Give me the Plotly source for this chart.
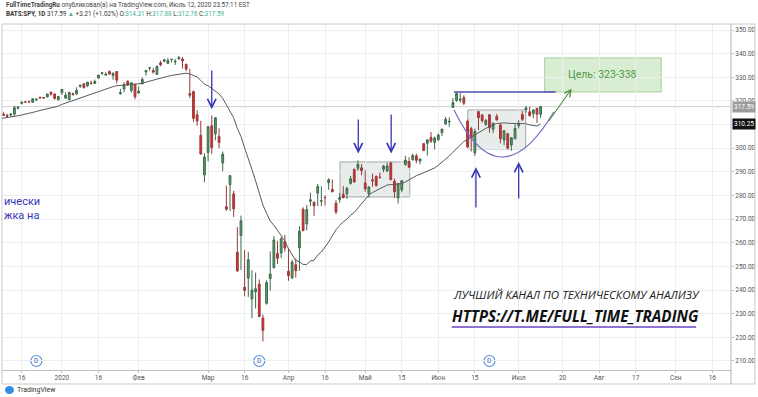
import plotly.graph_objects as go
import pandas as pd

# ---------------- DATA (BATS:SPY, 1D) ----------------
dates = ["2019-12-06","2019-12-09","2019-12-10","2019-12-11","2019-12-12","2019-12-13","2019-12-16","2019-12-17","2019-12-18","2019-12-19",
"2019-12-20","2019-12-23","2019-12-24","2019-12-26","2019-12-27","2019-12-30","2019-12-31","2020-01-02","2020-01-03","2020-01-06",
"2020-01-07","2020-01-08","2020-01-09","2020-01-10","2020-01-13","2020-01-14","2020-01-15","2020-01-16","2020-01-17","2020-01-21",
"2020-01-22","2020-01-23","2020-01-24","2020-01-27","2020-01-28","2020-01-29","2020-01-30","2020-01-31","2020-02-03","2020-02-04",
"2020-02-05","2020-02-06","2020-02-07","2020-02-10","2020-02-11","2020-02-12","2020-02-13","2020-02-14","2020-02-18","2020-02-19",
"2020-02-20","2020-02-21","2020-02-24","2020-02-25","2020-02-26","2020-02-27","2020-02-28","2020-03-02","2020-03-03","2020-03-04",
"2020-03-05","2020-03-06","2020-03-09","2020-03-10","2020-03-11","2020-03-12","2020-03-13","2020-03-16","2020-03-17","2020-03-18",
"2020-03-19","2020-03-20","2020-03-23","2020-03-24","2020-03-25","2020-03-26","2020-03-27","2020-03-30","2020-03-31","2020-04-01",
"2020-04-02","2020-04-03","2020-04-06","2020-04-07","2020-04-08","2020-04-09","2020-04-13","2020-04-14","2020-04-15","2020-04-16",
"2020-04-17","2020-04-20","2020-04-21","2020-04-22","2020-04-23","2020-04-24","2020-04-27","2020-04-28","2020-04-29","2020-04-30",
"2020-05-01","2020-05-04","2020-05-05","2020-05-06","2020-05-07","2020-05-08","2020-05-11","2020-05-12","2020-05-13","2020-05-14",
"2020-05-15","2020-05-18","2020-05-19","2020-05-20","2020-05-21","2020-05-22","2020-05-26","2020-05-27","2020-05-28","2020-05-29",
"2020-06-01","2020-06-02","2020-06-03","2020-06-04","2020-06-05","2020-06-08","2020-06-09","2020-06-10","2020-06-11","2020-06-12",
"2020-06-15","2020-06-16","2020-06-17","2020-06-18","2020-06-19","2020-06-22","2020-06-23","2020-06-24","2020-06-25","2020-06-26",
"2020-06-29","2020-06-30","2020-07-01","2020-07-02","2020-07-06","2020-07-07","2020-07-08","2020-07-09","2020-07-10"]

opens = [314.12,314.44,313.82,314.03,314.43,316.91,319.00,319.61,319.71,319.42,
320.45,321.59,321.47,321.65,323.74,322.95,320.53,323.54,321.16,320.49,
323.02,322.94,326.16,327.29,326.39,327.47,327.35,329.71,331.70,330.90,
332.43,330.63,332.44,323.03,325.06,328.38,324.36,327.00,323.35,327.20,
332.23,333.91,332.82,331.23,336.16,336.83,335.86,337.51,336.51,337.79,
337.74,335.47,323.14,323.94,314.18,305.46,288.70,298.21,309.50,306.12,
304.98,293.79,275.30,284.64,280.70,255.94,263.09,241.18,245.04,236.25,
239.25,242.53,228.19,234.42,244.87,249.52,255.52,255.70,260.56,247.98,
245.19,250.76,257.84,274.21,267.96,277.58,277.14,280.98,277.57,279.15,
285.38,282.61,276.73,278.35,280.49,280.73,285.12,291.02,291.53,291.71,
285.31,280.74,286.64,288.04,287.75,291.09,290.34,293.79,286.06,278.95,
282.37,293.05,294.35,295.06,296.79,294.57,301.93,302.12,304.65,302.46,
303.62,306.55,310.24,311.11,317.23,320.22,320.30,321.42,311.46,308.24,
298.02,315.48,314.07,310.01,314.17,307.99,313.49,309.84,303.47,306.16,
301.41,303.99,309.57,314.24,316.37,315.38,314.61,316.84,314.31]

highs = [315.31,315.18,314.55,314.70,317.99,317.86,319.52,319.70,320.15,320.98,
321.00,321.65,321.52,322.95,323.80,323.10,322.13,324.89,323.64,323.73,
323.54,325.78,326.73,327.46,327.96,328.62,329.02,330.92,332.00,332.18,
332.95,332.03,332.53,325.12,327.85,328.63,327.91,327.17,326.16,330.00,
333.09,334.19,333.99,334.75,337.02,337.64,338.12,337.73,337.67,339.08,
338.64,335.80,333.56,324.35,316.06,311.56,297.89,309.16,313.84,313.10,
308.47,298.60,284.19,288.52,281.94,266.66,271.48,256.90,256.17,248.37,
247.38,244.47,229.68,244.10,256.35,262.80,260.81,262.43,263.33,257.66,
252.68,253.32,267.00,275.03,276.00,281.20,277.51,284.90,283.94,280.03,
287.30,286.79,278.04,281.00,283.94,283.70,288.27,291.40,294.88,293.32,
290.66,283.90,289.25,288.46,289.78,292.95,294.00,294.24,287.19,285.11,
286.33,296.75,296.21,297.67,297.67,295.63,302.19,303.57,306.84,304.96,
306.21,308.13,313.22,313.00,321.27,323.41,323.28,322.39,312.15,309.08,
308.28,315.64,314.39,312.30,314.38,310.72,314.50,310.51,307.64,306.39,
304.61,310.20,311.89,315.70,317.88,317.52,316.30,317.10,317.88]

lows = [314.11,313.80,312.81,313.44,313.64,316.50,318.55,319.17,319.30,319.30,
319.88,321.06,320.90,321.64,322.28,320.55,320.15,322.53,321.10,320.36,
322.24,322.67,325.52,325.20,325.92,326.84,327.26,329.45,330.94,330.82,
331.17,328.95,327.36,322.66,323.60,326.40,323.54,320.73,323.22,327.14,
330.67,332.80,331.60,331.19,334.68,336.33,335.56,336.20,335.21,337.48,
333.68,332.58,321.13,311.21,309.55,297.51,285.54,294.46,297.57,303.33,
300.01,290.26,273.45,273.46,270.88,247.68,248.52,237.36,237.07,228.02,
232.22,228.50,218.26,233.80,239.75,249.05,251.05,253.53,256.22,243.90,
244.59,245.22,248.17,264.89,265.25,275.47,271.41,275.51,275.46,275.76,
282.40,281.35,272.02,276.91,278.75,278.50,284.62,285.40,290.41,288.59,
281.52,279.13,283.71,283.78,287.13,289.86,289.88,286.52,278.97,276.56,
281.34,292.70,291.95,294.97,293.69,293.22,298.69,296.87,302.24,299.47,
303.06,305.10,309.94,309.08,317.16,319.63,319.36,318.22,300.01,298.60,
296.74,307.67,310.86,309.51,306.53,306.39,311.61,302.10,301.32,299.42,
298.93,303.82,308.35,311.51,315.01,313.37,312.70,310.68,312.76]

closes = [314.87,313.88,313.53,314.42,317.13,317.32,319.50,319.57,319.59,320.90,
320.73,321.22,321.23,322.94,322.86,321.08,321.86,324.87,322.41,323.64,
322.73,324.45,326.65,325.71,327.95,327.45,328.19,330.92,331.95,331.30,
331.34,331.72,328.77,323.50,326.89,326.62,327.68,321.73,324.12,329.06,
332.86,333.98,332.20,334.68,335.26,337.42,337.06,337.60,336.73,338.34,
336.95,333.48,322.42,312.65,311.50,297.51,296.26,309.09,300.24,312.86,
302.46,297.46,274.23,288.42,274.36,248.11,269.32,239.85,252.80,240.00,
240.51,228.80,222.95,243.15,246.79,261.20,253.42,261.65,257.75,246.15,
251.83,248.19,264.86,265.13,274.03,278.20,275.66,283.79,277.76,279.10,
286.64,281.59,273.04,279.10,279.08,282.97,287.05,285.73,293.21,290.48,
282.79,283.57,286.19,284.25,287.68,292.44,292.50,286.67,281.60,284.97,
286.28,295.00,291.97,296.93,294.88,295.44,299.08,303.53,302.97,304.32,
305.55,308.08,312.18,311.36,319.34,323.20,320.79,319.00,300.61,304.21,
307.05,312.96,311.66,311.78,308.64,310.62,312.05,304.09,307.35,300.05,
304.46,308.36,310.52,312.23,317.05,313.78,316.18,314.38,317.59]

# closes of the 19 sessions before the first visible bar (warm-up for the 20-day SMA)
warmup_closes = [309.96,309.62,310.26,310.44,310.97,313.37,313.60,313.52,312.38,311.79,
312.50,315.06,315.73,316.81,314.31,311.64,309.55,311.46,312.02]

holidays = ["2019-12-25","2020-01-01","2020-01-20","2020-02-17","2020-04-10","2020-05-25","2020-07-03","2020-09-07"]

tick_dates = ["2019-12-16","2020-01-02","2020-01-16","2020-02-03","2020-03-02","2020-03-16","2020-04-01","2020-04-16","2020-05-01",
              "2020-05-15","2020-06-01","2020-06-15","2020-07-01","2020-07-20","2020-08-03","2020-08-17","2020-09-01","2020-09-16"]
tick_text = ["16","2020","16","Фев","Мар","16","Апр","16","Май","15","Июн","15","Июл","20","Авг","17","Сен","16"]

price_ticks = [210,220,230,240,250,260,270,280,290,300,310,320,330,340,350]
dividend_dates = ["2019-12-20","2020-03-20","2020-06-19"]
target_text = "Цель: 323-338"

# ---------------- trading-day calendar -> bar index ----------------
cal = [d.strftime("%Y-%m-%d") for d in pd.bdate_range("2019-12-06", "2020-09-30") if d.strftime("%Y-%m-%d") not in holidays]
pos = {d: i for i, d in enumerate(cal)}
xs = [pos[d] for d in dates]

# 20-period SMA indicator, as drawn by TradingView
sma = pd.Series(warmup_closes + closes).rolling(20).mean().tolist()[len(warmup_closes):]

# ---------------- pixel helpers for layout decorations ----------------
PX_L, PX_R, PY_T, PY_B = 2, 733, 24, 370
def pxx(px): return (px - PX_L) / (PX_R - PX_L)
def pxy(py): return (PY_B - py) / (PY_B - PY_T)

FONT = "Roboto"
BLUE = "#3636b8"

fig = go.Figure()
fig.add_trace(go.Candlestick(
    x=xs, open=opens, high=highs, low=lows, close=closes,
    increasing=dict(line=dict(color="#3b6a4a", width=1), fillcolor="#5f9d72"),
    decreasing=dict(line=dict(color="#9a3a3a", width=1), fillcolor="#e0292d"),
    whiskerwidth=0, showlegend=False, hoverinfo="skip"))
fig.add_trace(go.Scatter(x=xs, y=sma, mode="lines", line=dict(color="#5a5a5a", width=1),
                         showlegend=False, hoverinfo="skip"))

shapes = []
ann = []

# last price line
shapes.append(dict(type="line", xref="paper", yref="y", x0=0, x1=1, y0=closes[-1], y1=closes[-1],
                   line=dict(color="#cfcfcf", width=1), layer="below"))

# rectangles (drawings)
for (x0, x1, y0, y1) in [(93.1, 112.2, 279.4, 294.2), (128.1, 143.9, 299.7, 316.2)]:
    shapes.append(dict(type="rect", xref="x", yref="y", x0=x0, x1=x1, y0=y0, y1=y1,
                       fillcolor="rgba(190,200,196,0.35)", line=dict(color="rgba(150,162,156,0.9)", width=1), layer="below"))
# target box
shapes.append(dict(type="rect", xref="x", yref="y", x0=149.1, x1=181.0, y0=323.8, y1=338.2,
                   fillcolor="rgba(180,220,165,0.5)", line=dict(color="#a9d29b", width=1), layer="below"))
# resistance line
shapes.append(dict(type="line", xref="x", yref="y", x0=124.3, x1=152.1, y0=323.8, y1=323.8,
                   line=dict(color="#4d4db5", width=1.5)))
# cup curve
shapes.append(dict(type="path", xref="x", yref="y", path="M 124.3,316.2 Q 136.8,276.8 151.6,315.3",
                   line=dict(color="#6c6cc8", width=1.2)))

# dividend marker circles
for d in dividend_dates:
    shapes.append(dict(type="circle", xref="x", yref="paper", xsizemode="pixel", ysizemode="pixel",
                       xanchor=pos[d], yanchor=pxy(361), x0=-5.5, x1=5.5, y0=-5.5, y1=5.5,
                       fillcolor="white", line=dict(color="#5b8fd6", width=1.2), layer="below"))
    ann.append(dict(x=pos[d], y=pxy(361), xref="x", yref="paper", xanchor="center", yanchor="middle",
                    text="D", showarrow=False, font=dict(family=FONT, size=6.5, color="#2f62b8")))

# arrows
for (x, ytail, yhead) in [(58.0, 333.5, 316.5), (98.1, 312.8, 297.8), (107.1, 314.9, 297.8),
                           (130.3, 274.3, 292.0), (142.0, 278.1, 294.2)]:
    ann.append(dict(x=x, y=yhead, ax=x, ay=ytail, xref="x", yref="y", axref="x", ayref="y",
                    showarrow=True, arrowhead=5, arrowsize=1.3, arrowwidth=1.3, arrowcolor=BLUE, text=""))
ann.append(dict(x=156.5, y=325.2, ax=150.0, ay=311.0, xref="x", yref="y", axref="x", ayref="y",
                showarrow=True, arrowhead=5, arrowsize=1.2, arrowwidth=1.1, arrowcolor="#4f8c3e", text=""))
ann.append(dict(x=165.0, y=331.0, xref="x", yref="y", text=target_text, showarrow=False,
                font=dict(family=FONT, size=10.5, color="#4c9a45")))

# left cut-off text
ann.append(dict(x=pxx(2), y=pxy(201), xref="paper", yref="paper", xanchor="left", yanchor="middle", showarrow=False,
                text="ически", font=dict(family=FONT, size=11, color=BLUE)))
ann.append(dict(x=pxx(2), y=pxy(216), xref="paper", yref="paper", xanchor="left", yanchor="middle", showarrow=False,
                text="жка на", font=dict(family=FONT, size=11, color=BLUE)))

# promo text
ann.append(dict(x=pxx(452), y=pxy(294), xref="paper", yref="paper", xanchor="left", yanchor="middle", showarrow=False,
                text="<i>ЛУЧШИЙ КАНАЛ ПО ТЕХНИЧЕСКОМУ АНАЛИЗУ</i>", font=dict(family="Open Sans", size=11.5, color="#222")))
ann.append(dict(x=pxx(451), y=pxy(316), xref="paper", yref="paper", xanchor="left", yanchor="middle", showarrow=False,
                text="<b><i>HTTPS://T.ME/FULL_TIME_TRADING</i></b>", font=dict(family="Open Sans", size=15.2, color="#111")))
shapes.append(dict(type="line", xref="paper", yref="paper", x0=pxx(453), x1=pxx(698), y0=pxy(327), y1=pxy(327),
                   line=dict(color="#8d72d2", width=2)))

# frame
shapes.append(dict(type="rect", xref="paper", yref="paper", x0=pxx(2), x1=pxx(757), y0=pxy(384), y1=pxy(24),
                   line=dict(color="#c9c9c9", width=1)))
shapes.append(dict(type="line", xref="paper", yref="paper", x0=pxx(733), x1=pxx(733), y0=pxy(384), y1=pxy(24),
                   line=dict(color="#b5b5b5", width=1)))

# price labels on axis
ann.append(dict(x=pxx(734), y=closes[-1], xref="paper", yref="y", xanchor="left", yanchor="middle", showarrow=False,
                text=f"{closes[-1]:.2f}", bgcolor="#9c9c9c", borderpad=1, font=dict(family=FONT, size=6.5, color="white")))
ann.append(dict(x=pxx(734), y=sma[-1], xref="paper", yref="y", xanchor="left", yanchor="middle", showarrow=False,
                text=f"{sma[-1]:.2f}", bgcolor="#111111", borderpad=1, font=dict(family=FONT, size=6.5, color="white")))

# header
ann.append(dict(x=pxx(4), y=pxy(5), xref="paper", yref="paper", xanchor="left", yanchor="middle", showarrow=False,
                text="<b>FullTimeTradingRu</b> опубликовал(а) на TradingView.com, Июль 12, 2020 23:57:11 EST",
                font=dict(family=FONT, size=6.3, color="#444")))
last = closes[-1]; chg = closes[-1] - closes[-2]
teal = "#45b29a"
ann.append(dict(x=pxx(4), y=pxy(14), xref="paper", yref="paper", xanchor="left", yanchor="middle", showarrow=False,
                text=(f"<b>BATS:SPY, 1D</b> {last:.2f} <span style='color:{teal}'>▲</span> +{chg:.2f} (+{chg/closes[-2]*100:.2f}%) "
                      f"O:<span style='color:{teal}'>{opens[-1]:.2f}</span> H:<span style='color:{teal}'>{highs[-1]:.2f}</span> "
                      f"L:<span style='color:{teal}'>{lows[-1]:.2f}</span> C:<span style='color:{teal}'>{closes[-1]:.2f}</span>"),
                font=dict(family=FONT, size=6.3, color="#333")))
# TradingView logo
shapes.append(dict(type="circle", xref="paper", yref="paper", x0=pxx(5), x1=pxx(14), y0=pxy(394), y1=pxy(386),
                   fillcolor="#2f8fde", line=dict(width=0)))
ann.append(dict(x=pxx(15), y=pxy(390), xref="paper", yref="paper", xanchor="left", yanchor="middle", showarrow=False,
                text="TradingView", font=dict(family=FONT, size=7, color="#333")))

fig.update_layout(
    width=758, height=397, margin=dict(l=2, r=25, t=24, b=27),
    paper_bgcolor="white", plot_bgcolor="white",
    shapes=shapes, annotations=ann, showlegend=False,
    xaxis=dict(range=[0.6, 200.1], tickvals=[pos[d] for d in tick_dates], ticktext=tick_text,
               showgrid=True, gridcolor="#eceef1", gridwidth=1, zeroline=False,
               ticks="outside", ticklen=2, tickcolor="#c0c0c0", ticklabelstandoff=-1,
               tickfont=dict(family=FONT, size=6.5, color="#555"),
               showline=True, linecolor="#c0c0c0", mirror=False, rangeslider=dict(visible=False)),
    yaxis=dict(side="right", range=[206.19, 352.54], tickvals=price_ticks,
               ticktext=[f"{v:.2f}" for v in price_ticks],
               showgrid=True, gridcolor="#eceef1", zeroline=False,
               ticks="outside", ticklen=2, tickcolor="#c0c0c0", ticklabelstandoff=0,
               tickfont=dict(family=FONT, size=6.5, color="#555"), showline=False),
)
fig.write_html("out.html", config={"displayModeBar": False},
               post_script="document.body.style.margin='0';document.body.style.padding='0';")
